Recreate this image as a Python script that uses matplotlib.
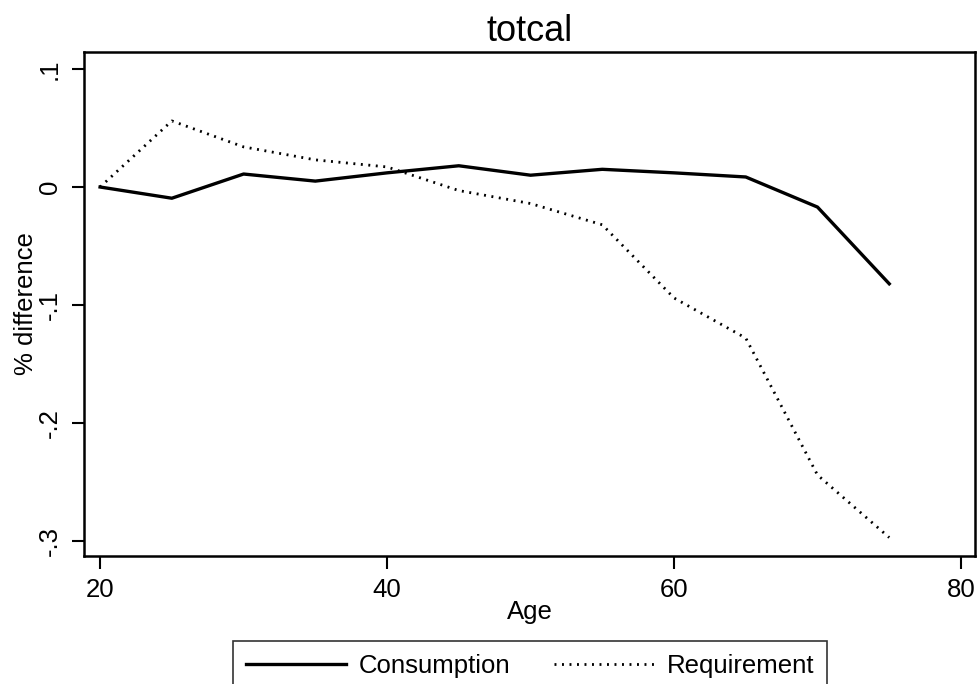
import matplotlib
matplotlib.use("Agg")
import matplotlib.pyplot as plt

plt.rcParams["font.family"] = ["Liberation Sans", "DejaVu Sans"]

age = [20, 25, 30, 35, 40, 45, 50, 55, 60, 65, 70, 75]
consumption = [0.0, -0.0095, 0.011, 0.005, 0.012, 0.018, 0.010, 0.015, 0.012, 0.0085, -0.017, -0.082]
requirement = [0.0, 0.056, 0.034, 0.023, 0.017, -0.003, -0.014, -0.032, -0.094, -0.128, -0.244, -0.297]

yticks = [0.1, 0.0, -0.1, -0.2, -0.3]
ytick_labels = [".1", "0", "-.1", "-.2", "-.3"]
xticks = [20, 40, 60, 80]

fig = plt.figure(figsize=(9.77, 6.84), dpi=100)
ax = fig.add_axes([0.086, 0.187, 0.912, 0.737])

ax.plot(age, consumption, color="black", lw=2.4, solid_joinstyle="round",
        label="Consumption")
ax.plot(age, requirement, color="black", lw=2.0, linestyle=(0, (0.7, 2.0)),
        label="Requirement")

ax.set_xlim(18.88, 80.98)
ax.set_ylim(-0.3127, 0.1144)
ax.set_xticks(xticks)
ax.set_yticks(yticks)
ax.set_yticklabels(ytick_labels, rotation=90, va="center")
ax.tick_params(axis="both", direction="out", length=9, width=1.5,
               labelsize=18.5, color="black", pad=7)

for s in ax.spines.values():
    s.set_linewidth(1.8)
    s.set_color("black")

ax.set_title("totcal", fontsize=26, pad=8)
ax.set_xlabel("Age", fontsize=18.5, labelpad=-2)
ax.set_ylabel("% difference", fontsize=18.5, labelpad=0)

leg = fig.legend(loc="upper center", bbox_to_anchor=(0.5425, 0.063), ncol=2,
                 fontsize=18.5, frameon=True, fancybox=False, handlelength=3.9,
                 columnspacing=1.7, handletextpad=0.5, borderpad=0.5,
                 borderaxespad=0)
leg.get_frame().set_edgecolor("black")
leg.get_frame().set_linewidth(1.2)

fig.savefig("out.png", dpi=100)
